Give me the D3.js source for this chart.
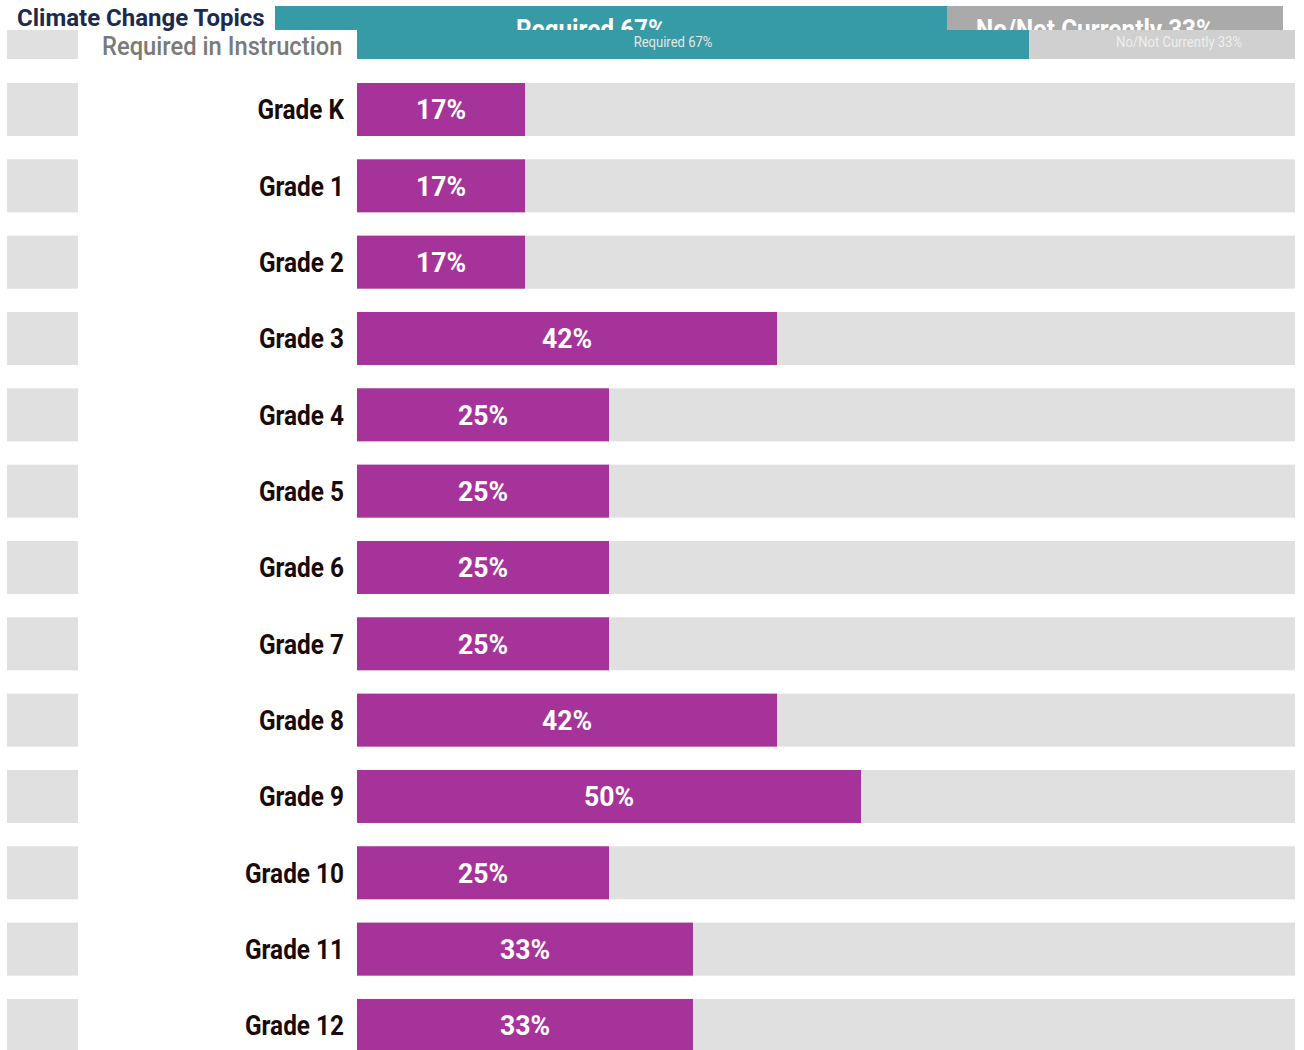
<!DOCTYPE html>
<html><head><meta charset="utf-8">
<script src="https://cdn.jsdelivr.net/npm/d3@7"></script>
<style>body{margin:0;background:#fff;overflow:hidden}svg{display:block}</style>
</head><body>
<script>
const categories = ["Grade K","Grade 1","Grade 2","Grade 3","Grade 4","Grade 5","Grade 6","Grade 7","Grade 8","Grade 9","Grade 10","Grade 11","Grade 12"];
const values = [16.67,16.67,16.67,41.67,25,25,25,25,41.67,50,25,33.33,33.33];
const valueLabels = ["17%","17%","17%","42%","25%","25%","25%","25%","42%","50%","25%","33%","33%"];
const headerKeys = ["Required","No/Not Currently"];
const headerValues = [66.67,33.33];
const headerLabels = ["Required 67%","No/Not Currently 33%"];
const title = "Climate Change Topics";
const subtitle = "Required in Instruction";

const W=1304,H=1050;
const font = "Roboto, 'Noto Sans', sans-serif";
const SX = 0.87;
const svg=d3.select("body").append("svg").attr("width",W).attr("height",H);
svg.append("defs").append("clipPath").attr("id","c").append("rect").attr("x",0).attr("y",0).attr("width",1295).attr("height",H);
const g = svg.append("g").attr("clip-path","url(#c)");

const x = d3.scaleLinear().domain([0,100]).range([357,1365]);
const y = d3.scaleBand().domain(categories).range([83,83+76.33*(categories.length-0.3057)]).paddingInner(0.3057).paddingOuter(0);

// header layer 1
const xh = d3.scaleLinear().domain([0,100]).range([275,1283]);
let acc=0;
const hdr = headerValues.map((v,i)=>{const s=acc; acc+=v; return {k:headerKeys[i],s,e:acc,l:headerLabels[i]};});
const hcol=["#369ba6","#aaaaaa"];
g.selectAll("rect.h1").data(hdr).join("rect").attr("x",d=>xh(d.s)).attr("width",d=>xh(d.e)-xh(d.s))
 .attr("y",6).attr("height",24).attr("fill",(d,i)=>hcol[i]);
g.selectAll("text.h1").data(hdr).join("text")
 .attr("transform",d=>`translate(${(xh(d.s)+xh(d.e))/2-20},39) scale(${SX},1)`)
 .attr("text-anchor","middle").attr("fill","#fff").attr("font-family",font).attr("font-weight","bold").attr("font-size",28).text(d=>d.l);

// header layer 2
const hcol2=["#369ba6","#d0d0d0"];
g.append("rect").attr("x",7).attr("y",30).attr("width",71).attr("height",29).attr("fill","#e0e0e0");
g.append("rect").attr("x",78).attr("y",30).attr("width",279).attr("height",29).attr("fill","#fff");
g.selectAll("rect.h2").data(hdr).join("rect").attr("x",d=>x(d.s)).attr("width",d=>x(d.e)-x(d.s))
 .attr("y",30).attr("height",29).attr("fill",(d,i)=>hcol2[i]);
g.selectAll("text.h2").data(hdr).join("text")
 .attr("transform",(d,i)=>`translate(${i? x(d.s)+150 : (x(d.s)+x(d.e))/2 - 20},47) scale(${SX},1)`)
 .attr("text-anchor","middle").attr("fill",(d,i)=>i?"#eeeeee":"#e6e6e6").attr("font-family",font).attr("font-size",15).text(d=>d.l);

svg.append("text").attr("x",17).attr("y",26).attr("fill","#1b2a4e").attr("font-family",font).attr("font-weight","bold").attr("font-size",24).text(title);
svg.append("text").attr("transform",`translate(102,55) scale(0.95,1)`).attr("fill","#7a7a7a").attr("font-family",font).attr("font-weight",500).attr("font-size",25).text(subtitle);

// rows
const rows = g.selectAll("g.row").data(categories.map((c,i)=>({c,v:values[i],l:valueLabels[i]}))).join("g");
rows.append("rect").attr("x",7).attr("width",71).attr("y",d=>y(d.c)).attr("height",y.bandwidth()).attr("fill","#e0e0e0");
rows.append("rect").attr("x",x(0)).attr("width",1295-x(0)).attr("y",d=>y(d.c)).attr("height",y.bandwidth()).attr("fill","#e0e0e0");
rows.append("rect").attr("x",x(0)).attr("width",d=>x(d.v)-x(0)).attr("y",d=>y(d.c)).attr("height",y.bandwidth()).attr("fill","#a63399");
rows.append("text").attr("transform",d=>`translate(344,${y(d.c)+y.bandwidth()/2+10}) scale(${SX},1)`).attr("text-anchor","end")
 .attr("fill","#1a0a0a").attr("font-family",font).attr("font-weight","bold").attr("font-size",28).text(d=>d.c);
rows.append("text").attr("transform",d=>`translate(${(x(0)+x(d.v))/2},${y(d.c)+y.bandwidth()/2+10}) scale(0.95,1)`).attr("text-anchor","middle")
 .attr("fill","#fff").attr("font-family",font).attr("font-weight","bold").attr("font-size",28).text(d=>d.l);
</script>
</body></html>
